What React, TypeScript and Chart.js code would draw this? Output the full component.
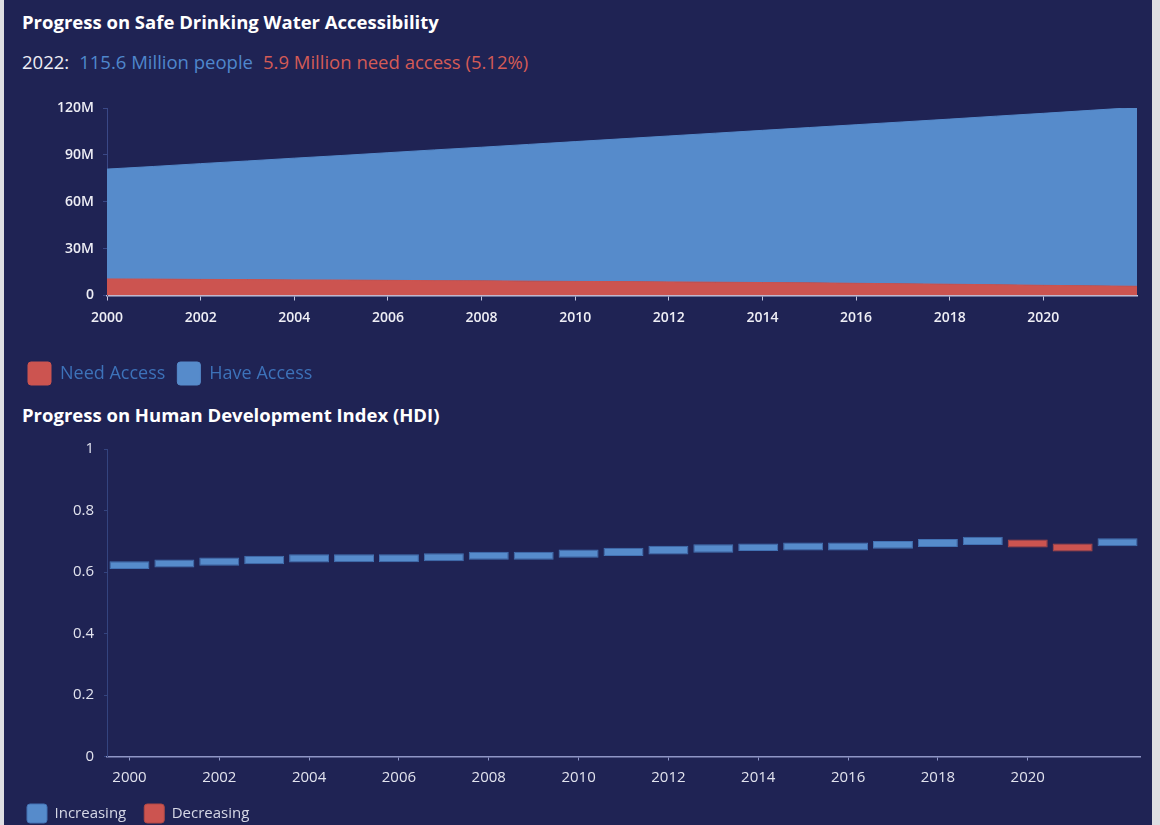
import React, { useEffect, useRef } from 'react';
import { Chart, registerables } from 'chart.js';

Chart.register(...registerables);

// ---------- data ----------
const years = [
  '2000', '2001', '2002', '2003', '2004', '2005', '2006', '2007', '2008', '2009', '2010', '2011',
  '2012', '2013', '2014', '2015', '2016', '2017', '2018', '2019', '2020', '2021', '2022',
];

// millions of people (stacked: need access at the bottom, have access above it)
const needAccess = [
  10.6, 10.5, 10.3, 10.2, 10.0, 9.9, 9.7, 9.5, 9.4, 9.2, 9.0, 8.9,
  8.7, 8.5, 8.3, 8.1, 7.8, 7.5, 7.2, 6.9, 6.5, 6.2, 5.9,
];
const haveAccess = [
  70.3, 72.1, 74.1, 75.9, 77.9, 79.7, 81.7, 83.7, 85.5, 87.5, 89.5, 91.4,
  93.4, 95.4, 97.4, 99.4, 101.5, 103.6, 105.7, 107.9, 110.1, 112.3, 114.5,
];
const waterTickStep = 30; // 0, 30M, 60M, 90M, 120M
const waterMax = 120;

// HDI bars: lower and upper edge of each bar
const hdiLow = [
  0.610, 0.615, 0.620, 0.625, 0.631, 0.632, 0.632, 0.635, 0.640, 0.640, 0.646, 0.652,
  0.657, 0.663, 0.668, 0.670, 0.670, 0.676, 0.681, 0.688, 0.680, 0.667, 0.684,
];
const hdiHigh = [
  0.635, 0.641, 0.647, 0.653, 0.658, 0.658, 0.658, 0.661, 0.666, 0.666, 0.673, 0.679,
  0.685, 0.690, 0.693, 0.696, 0.696, 0.701, 0.707, 0.715, 0.706, 0.693, 0.710,
];
const hdiTickStep = 0.2;

// ---------- styles ----------
const BG = '#1f2354';
const BLUE = '#568bcb';
const BLUE_EDGE = '#4272b4';
const RED = '#cc5450';
const RED_EDGE = '#b04844';
const FONT = "'Open Sans', 'Noto Sans', sans-serif";

const evenLabel = (i: number) => {
  const y = Number(years[i]);
  return y % 2 === 0 && y < 2022 ? years[i] : null;
};

function WaterChart() {
  const ref = useRef<HTMLCanvasElement | null>(null);
  useEffect(() => {
    if (!ref.current) return;
    const chart = new Chart(ref.current, {
      type: 'line',
      data: {
        labels: years,
        datasets: [
          {
            label: 'Need Access',
            data: needAccess,
            backgroundColor: RED,
            borderColor: RED,
            borderWidth: 1,
            fill: 'origin',
            pointRadius: 0,
            tension: 0,
          },
          {
            label: 'Have Access',
            data: haveAccess,
            backgroundColor: BLUE,
            borderColor: BLUE,
            borderWidth: 1,
            fill: '-1',
            pointRadius: 0,
            tension: 0,
          },
        ],
      },
      options: {
        animation: false,
        responsive: false,
        maintainAspectRatio: false,
        layout: { padding: { left: 12, right: 15, top: 18, bottom: 0 } },
        plugins: {
          legend: {
            position: 'bottom',
            align: 'start',
            labels: {
              boxWidth: 23,
              boxHeight: 23,
              padding: 12,
              color: '#3d72b9',
              font: { family: FONT, size: 18 },
              useBorderRadius: true,
              borderRadius: 3,
            },
          },
          tooltip: { enabled: false },
        },
        scales: {
          x: {
            type: 'category',
            offset: false,
            grid: { drawOnChartArea: false, drawTicks: true, tickLength: 5, color: '#c2c5de' },
            border: { display: true, color: '#c2c5de', width: 1.5 },
            ticks: {
              autoSkip: false,
              maxRotation: 0,
              padding: 9,
              color: '#eeeef5',
              font: { family: FONT, size: 14, weight: '600' },
              callback: (_v: any, i: number) => evenLabel(i),
            },
            afterFit: (s: any) => {
              s.height = 54.5;
            },
          },
          y: {
            stacked: true,
            min: 0,
            max: waterMax,
            grid: { drawOnChartArea: false, drawTicks: true, tickLength: 4, color: '#3a4886' },
            border: { display: true, color: '#3a4886', width: 1 },
            ticks: {
              stepSize: waterTickStep,
              padding: 9,
              color: '#eeeef5',
              font: { family: FONT, size: 14, weight: '600' },
              callback: (v: any) => (Number(v) === 0 ? '0' : `${v}M`),
            },
            afterFit: (s: any) => {
              s.width = 91;
            },
          },
        },
      },
    } as any);
    return () => chart.destroy();
  }, []);
  return <canvas ref={ref} width={1148} height={305} style={{ display: 'block' }} />;
}

function HdiChart() {
  const ref = useRef<HTMLCanvasElement | null>(null);
  useEffect(() => {
    if (!ref.current) return;
    const up = years.map((_, i) => i === 0 || hdiHigh[i] >= hdiHigh[i - 1]);
    const chart = new Chart(ref.current, {
      type: 'bar',
      data: {
        labels: years,
        datasets: [
          {
            label: 'Increasing',
            data: years.map((_, i) => (up[i] ? [hdiLow[i], hdiHigh[i]] : null)),
            backgroundColor: BLUE,
            borderColor: BLUE_EDGE,
            borderWidth: 1,
            borderSkipped: false,
            grouped: false,
            barPercentage: 0.89,
            categoryPercentage: 1,
          },
          {
            label: 'Decreasing',
            data: years.map((_, i) => (!up[i] ? [hdiLow[i], hdiHigh[i]] : null)),
            backgroundColor: RED,
            borderColor: RED_EDGE,
            borderWidth: 1,
            borderSkipped: false,
            grouped: false,
            barPercentage: 0.89,
            categoryPercentage: 1,
          },
        ],
      },
      options: {
        animation: false,
        responsive: false,
        maintainAspectRatio: false,
        layout: { padding: { left: 5, right: 12, top: 16, bottom: 0 } },
        plugins: {
          legend: {
            position: 'bottom',
            align: 'start',
            labels: {
              boxWidth: 20,
              boxHeight: 19,
              padding: 18,
              color: '#d6d8e6',
              font: { family: FONT, size: 15 },
              useBorderRadius: true,
              borderRadius: 3,
            },
          },
          tooltip: { enabled: false },
        },
        scales: {
          x: {
            type: 'category',
            offset: true,
            grid: { offset: false, drawOnChartArea: false, drawTicks: true, tickLength: 4, color: '#8f96c6' },
            border: { display: true, color: '#8f96c6', width: 1.5 },
            ticks: {
              autoSkip: false,
              maxRotation: 0,
              padding: 8,
              color: '#e2e3ee',
              font: { family: FONT, size: 15 },
              callback: (_v: any, i: number) => evenLabel(i),
            },
            afterFit: (s: any) => {
              s.height = 29.5;
            },
          },
          y: {
            min: 0,
            max: 1,
            grid: { drawOnChartArea: false, drawTicks: true, tickLength: 3, color: '#34447f' },
            border: { display: true, color: '#34447f', width: 1 },
            ticks: {
              stepSize: hdiTickStep,
              padding: 10,
              color: '#e2e3ee',
              font: { family: FONT, size: 15 },
              callback: (v: any) => String(Number(Number(v).toFixed(1))),
            },
            afterFit: (s: any) => {
              s.width = 98;
            },
          },
        },
      },
    } as any);
    return () => chart.destroy();
  }, []);
  return <canvas ref={ref} width={1148} height={403} style={{ display: 'block' }} />;
}

export default function App() {
  const titleStyle: React.CSSProperties = {
    position: 'absolute',
    left: 18,
    fontFamily: FONT,
    fontWeight: 700,
    fontSize: 18.5,
    lineHeight: '26px',
    color: '#ffffff',
    whiteSpace: 'nowrap',
  };
  return (
    <div
      style={{
        position: 'fixed',
        left: 0,
        top: 0,
        width: 1160,
        height: 825,
        background: '#dedee2',
        overflow: 'hidden',
      }}
    >
      <div
        style={{
          position: 'absolute',
          left: 4,
          top: 0,
          width: 1148,
          height: 825,
          background: BG,
          overflow: 'hidden',
        }}
      >
        <div style={{ ...titleStyle, top: 9 }}>Progress on Safe Drinking Water Accessibility</div>
        <div
          style={{
            position: 'absolute',
            left: 18,
            top: 49,
            fontFamily: FONT,
            fontSize: 18.5,
            lineHeight: '26px',
            whiteSpace: 'nowrap',
          }}
        >
          <span style={{ color: '#eeeef5' }}>2022:</span>
          <span style={{ color: '#4f87cc', marginLeft: 10 }}>115.6 Million people</span>
          <span style={{ color: '#d45b56', marginLeft: 10 }}>5.9 Million need access (5.12%)</span>
        </div>
        <div style={{ position: 'absolute', left: 0, top: 90 }}>
          <WaterChart />
        </div>
        <div style={{ ...titleStyle, top: 402 }}>Progress on Human Development Index (HDI)</div>
        <div style={{ position: 'absolute', left: 0, top: 430 }}>
          <HdiChart />
        </div>
      </div>
    </div>
  );
}
